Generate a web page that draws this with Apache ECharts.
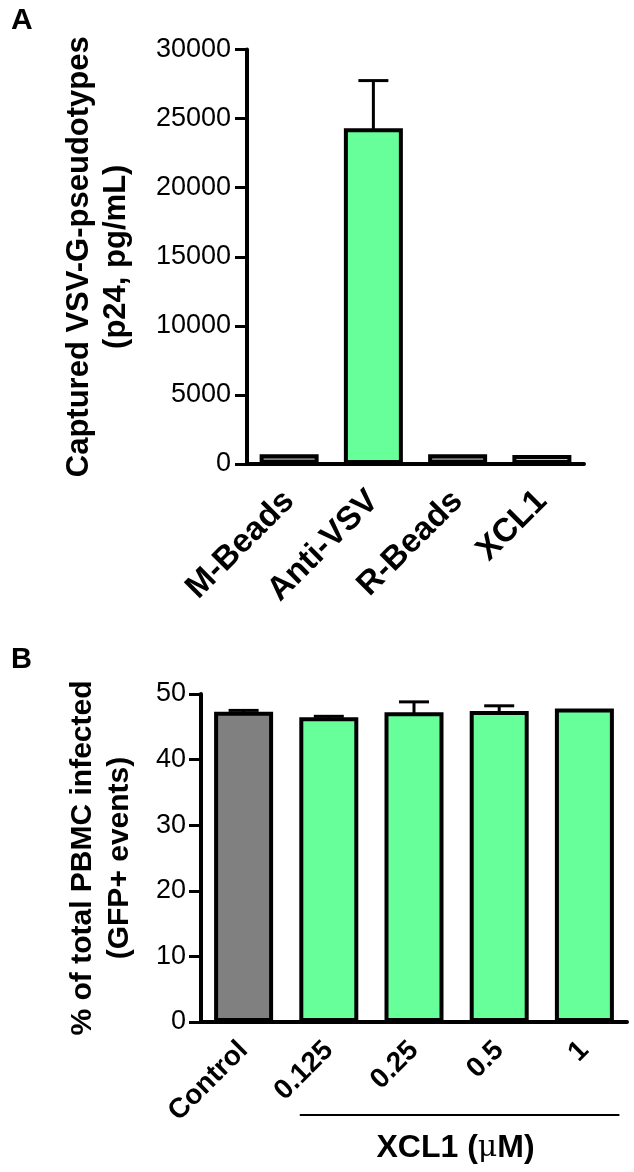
<!DOCTYPE html>
<html>
<head>
<meta charset="utf-8">
<script src="https://cdn.jsdelivr.net/npm/echarts@6/dist/echarts.min.js"></script>
<style>
html,body{margin:0;padding:0;background:#fff;}
#chart{width:634px;height:1172px;}
</style>
</head>
<body>
<div id="chart"></div>
<script>
// ---- Data ----
const catsA = ['M-Beads', 'Anti-VSV', 'R-Beads', 'XCL1'];
const meanA = [700, 24300, 700, 650];
const errA = [0, 3450, 0, 0];
const ticksA = { min: 0, max: 30000, interval: 5000 };

const catsB = ['Control', '0.125', '0.25', '0.5', '1'];
const meanB = [47.3, 46.45, 47.2, 47.4, 47.8];
const errB = [0.2, 0.15, 1.6, 0.8, 0];
const ticksB = { min: 0, max: 50, interval: 10 };

const groupNameB = 'XCL1 (';
const groupUnitB = '\u03bc';
const groupTailB = 'M)';

// ---- Styles ----
const GREEN = '#66ff99';
const GRAY = '#808080';
const fillA = [GRAY, GREEN, GRAY, GREEN];
const fillB = [GRAY, GREEN, GREEN, GREEN, GREEN];
const FONT = "'Liberation Sans', Arial, Helvetica, sans-serif";

const chart = echarts.init(document.getElementById('chart'), null, { renderer: 'canvas' });

function errRender(params, api) {
  const x = api.value(0), mean = api.value(1), err = api.value(2);
  if (!err) return null;
  const top = api.coord([x, mean + err]);
  const base = api.coord([x, mean]);
  const half = 15;
  return {
    type: 'group',
    children: [
      { type: 'line', shape: { x1: top[0], y1: base[1] + 2, x2: top[0], y2: top[1] }, style: { stroke: '#000', lineWidth: 3 } },
      { type: 'line', shape: { x1: top[0] - half, y1: top[1], x2: top[0] + half, y2: top[1] }, style: { stroke: '#000', lineWidth: 3 } }
    ]
  };
}

const axisLineStyle = { color: '#000', width: 4 };

const option = {
  animation: false,
  backgroundColor: '#fff',
  textStyle: { fontFamily: FONT },
  title: [
    { text: 'A', left: 6, top: 1, textStyle: { fontFamily: FONT, fontWeight: 'bold', fontSize: 30, color: '#000' } },
    { text: 'B', left: 6, top: 640, textStyle: { fontFamily: FONT, fontWeight: 'bold', fontSize: 29, color: '#000' } }
  ],
  grid: [
    { left: 247, right: 50, top: 49.5, height: 414.5, containLabel: false },
    { left: 201, right: 7, top: 694, height: 328, containLabel: false }
  ],
  xAxis: [
    {
      type: 'category', gridIndex: 0, data: catsA,
      axisLine: { lineStyle: axisLineStyle },
      axisTick: { alignWithLabel: true, length: 12, lineStyle: { color: '#000', width: 4 } },
      axisLabel: { rotate: 45, margin: 32, color: '#000', fontFamily: FONT, fontWeight: 'bold', fontSize: 33, interval: 0 }
    },
    {
      type: 'category', gridIndex: 1, data: catsB,
      axisLine: { lineStyle: axisLineStyle },
      axisTick: { alignWithLabel: true, length: 12, lineStyle: { color: '#000', width: 4 } },
      axisLabel: { rotate: 45, margin: 24, color: '#000', fontFamily: FONT, fontWeight: 'bold', fontSize: 28, interval: 0 }
    }
  ],
  yAxis: [
    {
      type: 'value', gridIndex: 0, min: ticksA.min, max: ticksA.max, interval: ticksA.interval,
      name: 'Captured VSV-G-pseudotypes\n(p24, pg/mL)',
      nameLocation: 'middle', nameRotate: 90, nameGap: 112,
      nameTextStyle: { fontFamily: FONT, fontWeight: 'bold', fontSize: 31, color: '#000', lineHeight: 37 },
      axisLine: { show: true, lineStyle: axisLineStyle },
      axisTick: { show: true, length: 12, lineStyle: { color: '#000', width: 3 } },
      axisLabel: { margin: 16, color: '#000', fontFamily: FONT, fontSize: 27, formatter: v => String(v) },
      splitLine: { show: false }
    },
    {
      type: 'value', gridIndex: 1, min: ticksB.min, max: ticksB.max, interval: ticksB.interval,
      name: '% of total PBMC infected\n(GFP+ events)',
      nameLocation: 'middle', nameRotate: 90, nameGap: 63,
      nameTextStyle: { fontFamily: FONT, fontWeight: 'bold', fontSize: 30, color: '#000', lineHeight: 37 },
      axisLine: { show: true, lineStyle: axisLineStyle },
      axisTick: { show: true, length: 12, lineStyle: { color: '#000', width: 3 } },
      axisLabel: { margin: 15, color: '#000', fontFamily: FONT, fontSize: 27, formatter: v => String(v) },
      splitLine: { show: false }
    }
  ],
  series: [
    {
      type: 'custom', xAxisIndex: 0, yAxisIndex: 0, z: 1,
      renderItem: errRender,
      data: catsA.map((c, i) => [i, meanA[i], errA[i]])
    },
    {
      type: 'bar', xAxisIndex: 0, yAxisIndex: 0, z: 2,
      barWidth: 59,
      data: meanA,
      itemStyle: { color: p => fillA[p.dataIndex], borderColor: '#000', borderWidth: 4 }
    },
    {
      type: 'custom', xAxisIndex: 1, yAxisIndex: 1, z: 1,
      renderItem: errRender,
      data: catsB.map((c, i) => [i, meanB[i], errB[i]])
    },
    {
      type: 'bar', xAxisIndex: 1, yAxisIndex: 1, z: 2,
      barWidth: 59,
      data: meanB,
      itemStyle: { color: p => fillB[p.dataIndex], borderColor: '#000', borderWidth: 4 }
    }
  ]
};

chart.setOption(option);

// Group bracket under the XCL1 concentrations, placed from the axis scale
const firstX = chart.convertToPixel({ xAxisIndex: 1 }, catsB[1]);
const lastX = chart.convertToPixel({ xAxisIndex: 1 }, catsB[catsB.length - 1]);
const axisY = chart.convertToPixel({ yAxisIndex: 1 }, ticksB.min);
const x1 = firstX - 29, x2 = lastX + 35;
chart.setOption({
  graphic: [
    { type: 'line', shape: { x1: x1, y1: axisY + 93, x2: x2, y2: axisY + 93 }, style: { stroke: '#000', lineWidth: 2 } },
    {
      type: 'text', x: (x1 + x2) / 2 - 4, y: axisY + 126,
      style: {
        text: '{b|' + groupNameB + '}{u|' + groupUnitB + '}{b|' + groupTailB + '}',
        align: 'center', verticalAlign: 'middle',
        rich: {
          b: { fontFamily: FONT, fontWeight: 'bold', fontSize: 32, fill: '#000' },
          u: { fontFamily: "'DejaVu Serif', serif", fontWeight: 'normal', fontSize: 30, fill: '#000' }
        }
      }
    }
  ]
});
</script>
</body>
</html>
